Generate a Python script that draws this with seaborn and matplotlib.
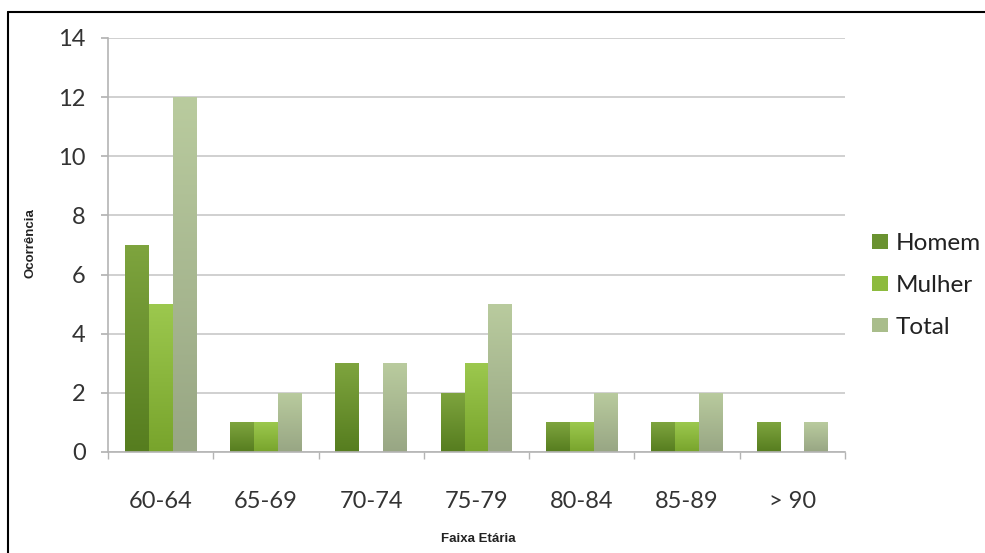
import matplotlib
matplotlib.use("Agg")
import matplotlib.pyplot as plt
import seaborn as sns
import pandas as pd
import numpy as np
from matplotlib.lines import Line2D
from matplotlib.patches import Patch
from matplotlib.colors import to_rgb

categories = ["60-64", "65-69", "70-74", "75-79", "80-84", "85-89", "> 90"]
homem = [7, 1, 3, 2, 1, 1, 1]
mulher = [5, 1, 0, 3, 1, 1, 0]
total = [12, 2, 3, 5, 2, 2, 1]
series_names = ["Homem", "Mulher", "Total"]
colors = ["#6a9230", "#8dbb3e", "#a9bd8b"]
top_colors = ["#7ea43e", "#9cc84e", "#b9cb9e"]
bottom_colors = ["#567d1f", "#78a42c", "#98a684"]

df = pd.DataFrame({
    "Faixa": categories * 3,
    "Serie": [s for s in series_names for _ in categories],
    "Valor": homem + mulher + total,
})

sns.set_theme(style="white")
plt.rcParams["font.family"] = ["Lato", "DejaVu Sans"]

fig = plt.figure(figsize=(9.85, 5.53), dpi=100)
ax = fig.add_axes([108/985, 1-452/553, (845-108)/985, (452-38)/553])

sns.barplot(data=df, x="Faixa", y="Valor", hue="Serie", palette=colors,
            order=categories, hue_order=series_names, width=0.68,
            saturation=1, linewidth=0, ax=ax, legend=False)

# vertical gradient fill clipped to each bar
for cont, tc, bc in zip(ax.containers, top_colors, bottom_colors):
    t = np.array(to_rgb(tc)); b = np.array(to_rgb(bc))
    grad = np.linspace(0, 1, 64)[:, None]
    img = (b[None, :] * (1 - grad) + t[None, :] * grad)[:, None, :]
    for p in cont.patches:
        h = p.get_height()
        if h <= 0:
            continue
        x0 = p.get_x(); w = p.get_width()
        im = ax.imshow(img, extent=[x0, x0 + w, 0, h], origin="lower",
                       aspect="auto", zorder=p.get_zorder() + 0.1,
                       interpolation="bilinear")
        im.set_clip_path(p)

ax.set_ylim(0, 14)
ax.set_yticks(range(0, 15, 2))
ax.set_xlim(-0.5, 6.5)
ax.yaxis.grid(True, color="#c8c8c8", linewidth=1.2)
ax.set_axisbelow(True)
for s in ["top", "right"]:
    ax.spines[s].set_visible(False)
for s in ["left", "bottom"]:
    ax.spines[s].set_color("#b4b4b4")
    ax.spines[s].set_linewidth(1.2)

ax.tick_params(axis="y", which="both", left=True, length=5, color="#b4b4b4",
               labelsize=17, labelcolor="#333333", pad=11)
ax.set_xticks(range(len(categories)))
ax.set_xticklabels(categories)
ax.tick_params(axis="x", which="major", bottom=False, labelsize=17,
               labelcolor="#333333", pad=22)
ax.set_xticks([i + 0.5 for i in range(-1, len(categories))], minor=True)
ax.tick_params(axis="x", which="minor", bottom=True, length=5, color="#b4b4b4")

ax.set_xlabel("Faixa Etária", fontsize=9.5, fontweight="bold",
              family=["Liberation Sans", "DejaVu Sans"], color="#222222")
ax.xaxis.set_label_coords((478-108)/737, -(533-452)/414)
ax.set_ylabel("Ocorrência", fontsize=9.5, fontweight="bold",
              family=["Liberation Sans", "DejaVu Sans"], color="#222222")
ax.yaxis.set_label_coords(-(108-37)/737, (452-243)/414)

handles = [Patch(facecolor=c, edgecolor="none") for c in colors]
fig.legend(handles, series_names, loc="upper left",
           bbox_to_anchor=(865/985, 1-226/553), frameon=False,
           fontsize=17.5, handlelength=0.65, handleheight=0.55,
           handletextpad=0.3, labelspacing=0.85, labelcolor="#222222",
           borderaxespad=0, borderpad=0.3)

fig.add_artist(Line2D([8/985, 1], [1-12/553, 1-12/553], transform=fig.transFigure,
                      color="black", linewidth=1.5))
fig.add_artist(Line2D([8/985, 8/985], [0, 1-12/553], transform=fig.transFigure,
                      color="black", linewidth=1.5))

fig.savefig("out.png", dpi=100, facecolor="white")
